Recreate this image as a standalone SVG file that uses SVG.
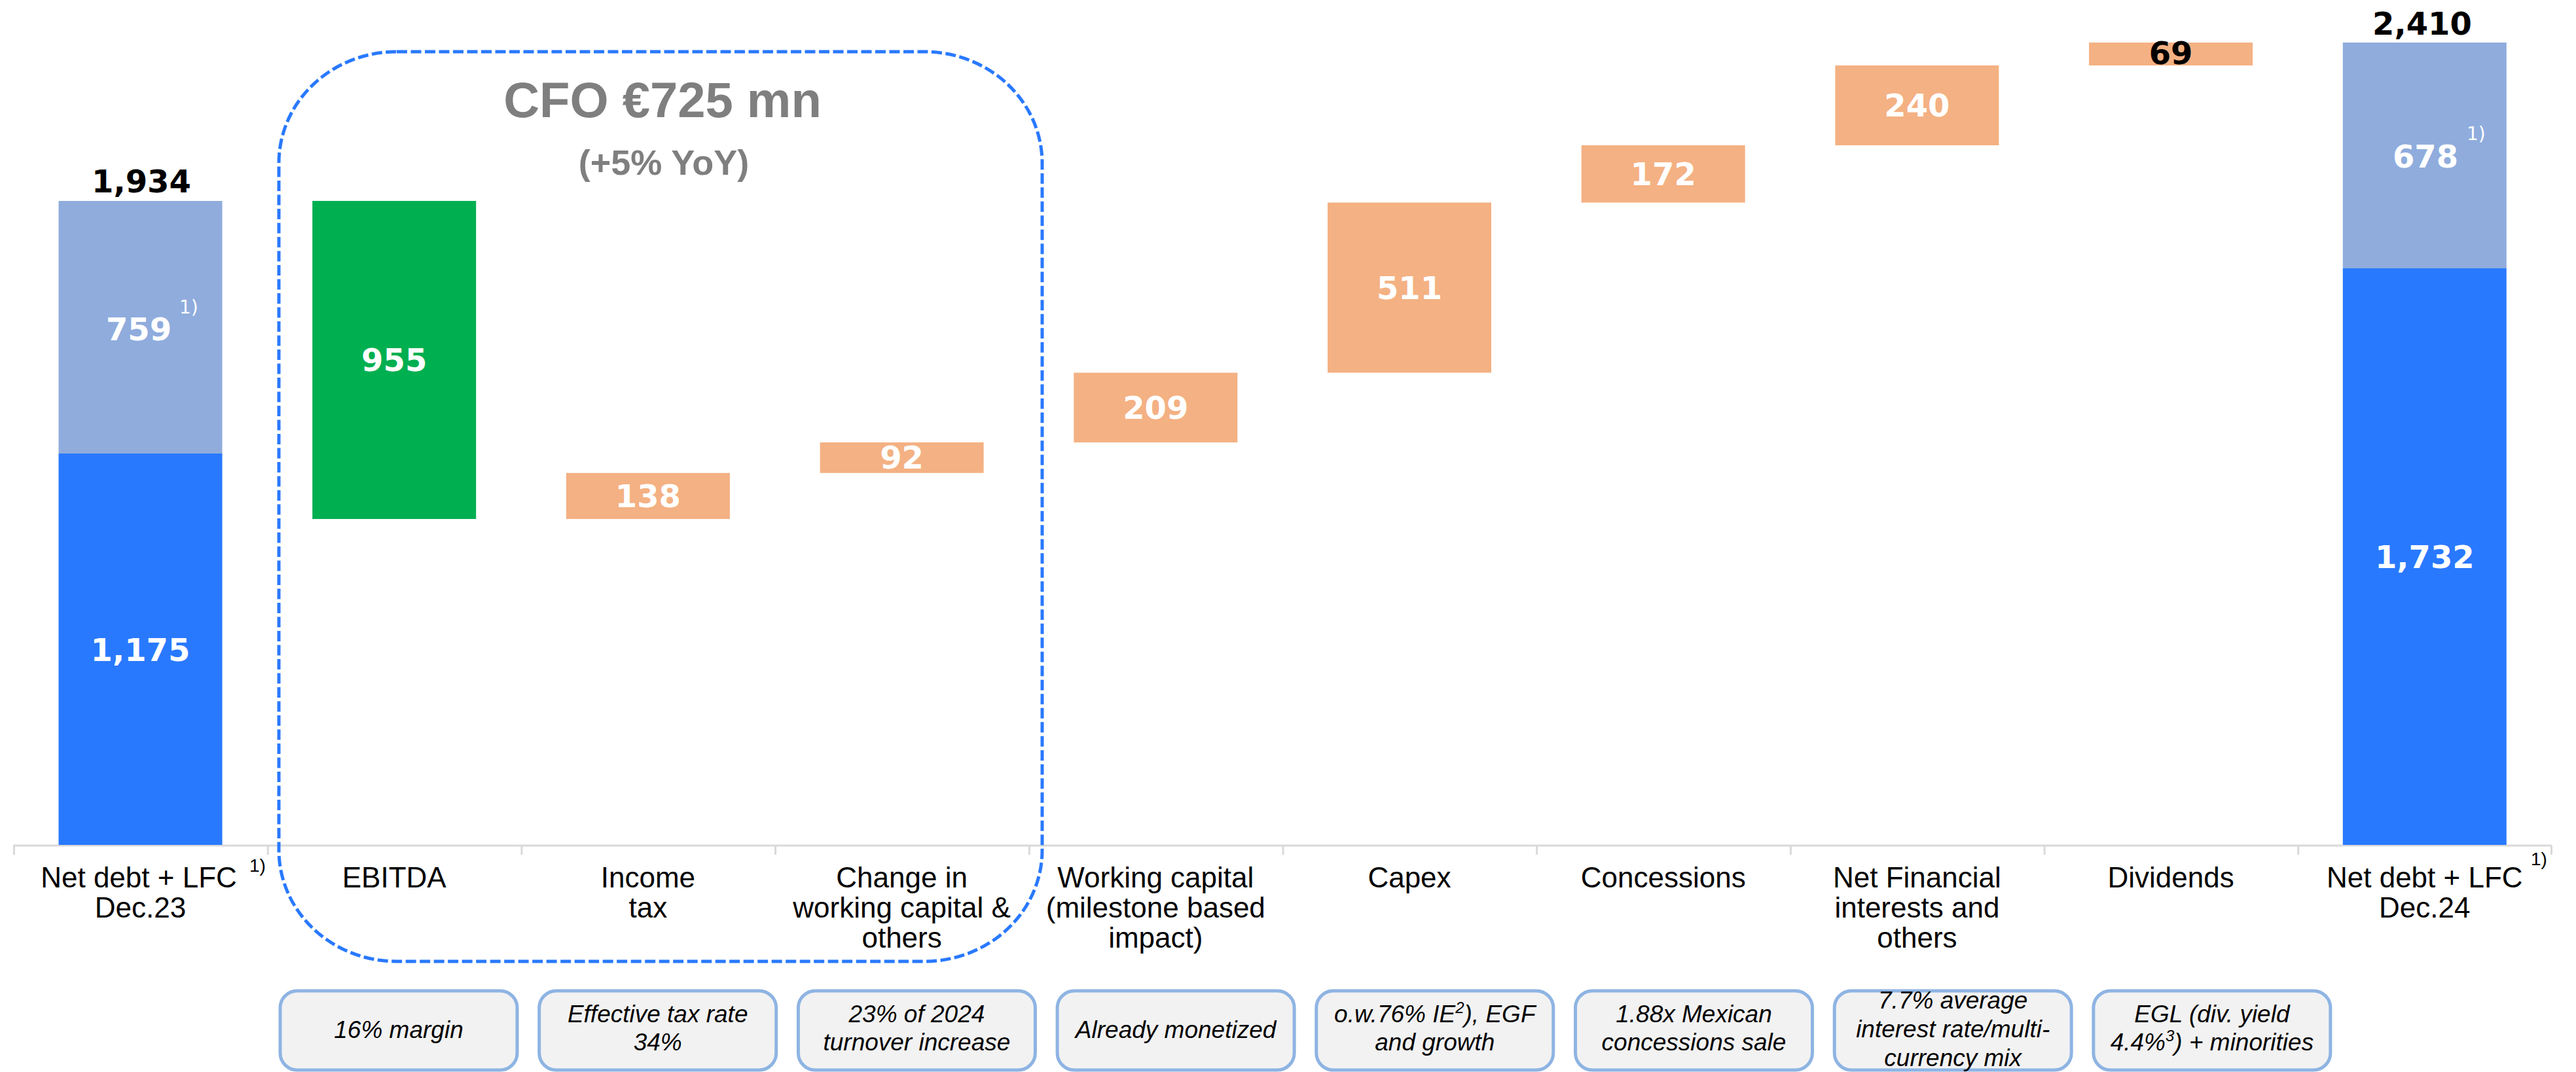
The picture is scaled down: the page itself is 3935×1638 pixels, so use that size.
<svg xmlns="http://www.w3.org/2000/svg" width="3935" height="1638" viewBox="0 0 3935 1638">
<style>
.dark{fill:#2979FF}
.light{fill:#8FACDD}
.green{fill:#00AF50}
.orange{fill:#F4B183}
.num{font-family:"DejaVu Sans",Verdana,sans-serif;font-weight:bold;font-size:48px;text-anchor:middle;fill:#FFFFFF}
.tot{font-family:"DejaVu Sans",Verdana,sans-serif;font-weight:bold;font-size:48px;text-anchor:middle;fill:#000000}
.sup{font-family:"DejaVu Sans",Verdana,sans-serif;font-size:28px;fill:#FFFFFF}
.lab{font-family:"Liberation Sans",Arial,sans-serif;font-size:44px;text-anchor:middle;fill:#000000}
.labsup{font-family:"Liberation Sans",Arial,sans-serif;font-size:28px;fill:#000000}
.box{fill:#F2F2F2;stroke:#8EB4E3;stroke-width:5}
.btxt{font-family:"Liberation Sans",Arial,sans-serif;font-style:italic;font-size:37px;text-anchor:middle;fill:#000000}
.title{font-family:"Liberation Sans",Arial,sans-serif;font-weight:bold;fill:#7F7F7F;text-anchor:middle}
.axis{stroke:#D9D9D9;stroke-width:3;fill:none}
</style>
<rect x="0" y="0" width="3935" height="1638" fill="#FFFFFF"/>

<g id="axis">
<line class="axis" x1="20" y1="1292" x2="3898" y2="1292"/>
<path class="axis" d="M21.5 1292V1306M409.2 1292V1306M796.9 1292V1306M1184.6 1292V1306M1572.3 1292V1306M1960 1292V1306M2347.7 1292V1306M2735.4 1292V1306M3123.1 1292V1306M3510.8 1292V1306M3897.5 1292V1306"/>
</g>

<g id="cfo-frame">
<rect x="426" y="79" width="1166" height="1390" rx="180" ry="170" fill="none" stroke="#2979FF" stroke-width="5" stroke-dasharray="16 5.5"/>
<text class="title" x="1012" y="179" font-size="76">CFO €725 mn</text>
<text class="title" x="1014" y="267" font-size="54">(+5% YoY)</text>
</g>

<g id="bar-netdebt-dec23">
<rect class="light" x="89.5" y="307" width="250" height="386"/>
<rect class="dark" x="89.5" y="693" width="250" height="598"/>
<text class="tot" x="216" y="294">1,934</text>
<text class="num" x="212" y="520">759</text>
<text class="sup" x="274" y="479">1)</text>
<text class="num" x="214.5" y="1010">1,175</text>
</g>

<g id="bar-ebitda">
<rect class="green" x="477.2" y="307" width="250" height="486"/>
<text class="num" x="602.2" y="567">955</text>
</g>

<g id="bar-income-tax">
<rect class="orange" x="864.9" y="722.7" width="250" height="70.3"/>
<text class="num" x="989.9" y="775">138</text>
</g>

<g id="bar-change-wc">
<rect class="orange" x="1252.6" y="676" width="250" height="46.7"/>
<text class="num" x="1377.6" y="716">92</text>
</g>

<g id="bar-working-capital">
<rect class="orange" x="1640.3" y="569.5" width="250" height="106.5"/>
<text class="num" x="1765.3" y="640">209</text>
</g>

<g id="bar-capex">
<rect class="orange" x="2028" y="309.5" width="250" height="260"/>
<text class="num" x="2153" y="457">511</text>
</g>

<g id="bar-concessions">
<rect class="orange" x="2415.7" y="222" width="250" height="87.5"/>
<text class="num" x="2540.7" y="283">172</text>
</g>

<g id="bar-net-financial">
<rect class="orange" x="2803.4" y="100" width="250" height="122"/>
<text class="num" x="2928.4" y="178">240</text>
</g>

<g id="bar-dividends">
<rect class="orange" x="3191.1" y="65" width="250" height="35"/>
<text class="tot" x="3316.1" y="98">69</text>
</g>

<g id="bar-netdebt-dec24">
<rect class="light" x="3578.8" y="65" width="250" height="345"/>
<rect class="dark" x="3578.8" y="410" width="250" height="881"/>
<text class="tot" x="3700" y="53">2,410</text>
<text class="num" x="3705" y="256">678</text>
<text class="sup" x="3768" y="214">1)</text>
<text class="num" x="3703.8" y="868">1,732</text>
</g>

<g id="labels">
<text class="lab" x="212" y="1356">Net debt + LFC</text>
<text class="labsup" x="381" y="1332">1)</text>
<text class="lab" x="214.5" y="1402">Dec.23</text>
<text class="lab" x="602.2" y="1356">EBITDA</text>
<text class="lab" x="989.9" y="1356">Income</text>
<text class="lab" x="989.9" y="1402">tax</text>
<text class="lab" x="1377.6" y="1356">Change in</text>
<text class="lab" x="1377.6" y="1402">working capital &amp;</text>
<text class="lab" x="1377.6" y="1448">others</text>
<text class="lab" x="1765.3" y="1356">Working capital</text>
<text class="lab" x="1765.3" y="1402">(milestone based</text>
<text class="lab" x="1765.3" y="1448">impact)</text>
<text class="lab" x="2153" y="1356">Capex</text>
<text class="lab" x="2540.7" y="1356">Concessions</text>
<text class="lab" x="2928.4" y="1356">Net Financial</text>
<text class="lab" x="2928.4" y="1402">interests and</text>
<text class="lab" x="2928.4" y="1448">others</text>
<text class="lab" x="3316.1" y="1356">Dividends</text>
<text class="lab" x="3703.8" y="1356">Net debt + LFC</text>
<text class="labsup" x="3866" y="1322">1)</text>
<text class="lab" x="3703.8" y="1402">Dec.24</text>
</g>

<g id="note-ebitda">
<rect class="box" x="428" y="1514" width="362" height="121" rx="26"/>
<text class="btxt" x="609" y="1586">16% margin</text>
</g>
<g id="note-income-tax">
<rect class="box" x="823.7" y="1514" width="362" height="121" rx="26"/>
<text class="btxt" x="1004.7" y="1562">Effective tax rate</text>
<text class="btxt" x="1004.7" y="1605">34%</text>
</g>
<g id="note-change-wc">
<rect class="box" x="1219.4" y="1514" width="362" height="121" rx="26"/>
<text class="btxt" x="1400.4" y="1562">23% of 2024</text>
<text class="btxt" x="1400.4" y="1605">turnover increase</text>
</g>
<g id="note-working-capital">
<rect class="box" x="1615.1" y="1514" width="362" height="121" rx="26"/>
<text class="btxt" x="1796.1" y="1586">Already monetized</text>
</g>
<g id="note-capex">
<rect class="box" x="2010.8" y="1514" width="362" height="121" rx="26"/>
<text class="btxt" x="2191.8" y="1562">o.w.76% IE<tspan font-size="24" dy="-14">2</tspan><tspan dy="14">), EGF</tspan></text>
<text class="btxt" x="2191.8" y="1605">and growth</text>
</g>
<g id="note-concessions">
<rect class="box" x="2406.5" y="1514" width="362" height="121" rx="26"/>
<text class="btxt" x="2587.5" y="1562">1.88x Mexican</text>
<text class="btxt" x="2587.5" y="1605">concessions sale</text>
</g>
<g id="note-net-financial">
<rect class="box" x="2802.2" y="1514" width="362" height="121" rx="26"/>
<text class="btxt" x="2983.2" y="1541">7.7% average</text>
<text class="btxt" x="2983.2" y="1585">interest rate/multi-</text>
<text class="btxt" x="2983.2" y="1629">currency mix</text>
</g>
<g id="note-dividends">
<rect class="box" x="3197.9" y="1514" width="362" height="121" rx="26"/>
<text class="btxt" x="3378.9" y="1562">EGL (div. yield</text>
<text class="btxt" x="3378.9" y="1605">4.4%<tspan font-size="24" dy="-14">3</tspan><tspan dy="14">) + minorities</tspan></text>
</g>
</svg>
